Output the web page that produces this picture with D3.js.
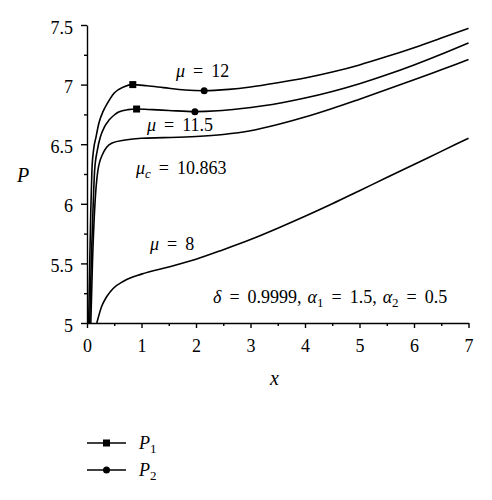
<!DOCTYPE html>
<html>
<head>
<meta charset="utf-8">
<script src="https://cdn.jsdelivr.net/npm/d3@7"></script>
<style>
  body { margin: 0; background: #fff; }
  svg text { font-family: "Liberation Serif", "Times New Roman", Times, serif !important; fill: #000; }
</style>
</head>
<body>
<div id="chart"></div>
<script>
// values
var xTicks = [0, 1, 2, 3, 4, 5, 6, 7];
var xTickLabels = ["0", "1", "2", "3", "4", "5", "6", "7"];
var yTicks = [5, 5.5, 6, 6.5, 7, 7.5];
var yTickLabels = ["5", "5.5", "6", "6.5", "7", "7.5"];

var mu12 = [[0.03,5.0],[0.05,5.5],[0.07,5.95],[0.09,6.28],[0.12,6.45],[0.165,6.56],[0.22,6.68],
  [0.30,6.78],[0.37,6.84],[0.50,6.93],[0.67,6.98],[0.84,7.0],[1.1,6.99],[1.4,6.975],[1.8,6.955],
  [2.15,6.949],[2.6,6.96],[3.0,6.98],[3.5,7.015],[4.0,7.055],[4.5,7.105],[5.0,7.165],
  [5.5,7.235],[6.0,7.31],[6.5,7.39],[7.0,7.472]];
var mu115 = [[0.05,5.0],[0.08,5.55],[0.11,5.95],[0.14,6.28],[0.19,6.45],[0.245,6.56],[0.32,6.645],
  [0.40,6.70],[0.50,6.745],[0.58,6.77],[0.75,6.79],[0.91,6.795],[1.2,6.79],[1.5,6.783],
  [1.98,6.773],[2.4,6.78],[2.8,6.797],[3.2,6.82],[3.6,6.85],[4.0,6.887],[4.5,6.942],[5.0,7.007],
  [5.5,7.082],[6.0,7.165],[6.5,7.255],[7.0,7.35]];
var muC = [[0.07,5.0],[0.10,5.5],[0.14,5.95],[0.20,6.28],[0.29,6.42],[0.36,6.475],[0.46,6.51],
  [0.70,6.535],[1.0,6.55],[1.4,6.555],[2.0,6.565],[2.5,6.582],[3.0,6.613],[3.5,6.665],[4.0,6.728],
  [4.5,6.80],[5.0,6.878],[5.5,6.958],[6.0,7.04],[6.5,7.125],[7.0,7.21]];
var mu8 = [[0.18,5.0],[0.27,5.14],[0.36,5.22],[0.48,5.29],[0.67,5.35],[1.0,5.41],[1.5,5.47],
  [2.0,5.535],[2.5,5.615],[3.0,5.70],[3.5,5.795],[4.0,5.895],[4.5,6.0],[5.0,6.11],[5.5,6.22],
  [6.0,6.33],[6.5,6.44],[7.0,6.55]];

var p1 = [[0.84, 7.0], [0.91, 6.795]];
var p2 = [[2.15, 6.949], [1.98, 6.773]];

var W = 492, H = 500;
var svg = d3.select("#chart").append("svg")
    .attr("width", W).attr("height", H);

var x = d3.scaleLinear().domain([0, 7]).range([87, 468.5]);
var y = d3.scaleLinear().domain([5, 7.5]).range([323, 25]);

// ---- axes
var xAxis = d3.axisBottom(x).tickValues(xTicks).tickSize(5).tickSizeOuter(0).tickPadding(11)
    .tickFormat(function(d, i) { return xTickLabels[i]; });
var gx = svg.append("g").attr("transform", "translate(0," + y(5) + ")").call(xAxis);
gx.selectAll("text").style("font-size", "18px");
svg.append("g").attr("transform", "translate(0," + y(5) + ")")
    .call(d3.axisBottom(x).tickValues(d3.range(0.5, 7, 1)).tickSize(3).tickFormat(""))
    .select(".domain").remove();

var yAxis = d3.axisLeft(y).tickValues(yTicks).tickSize(6).tickSizeOuter(0).tickPadding(8)
    .tickFormat(function(d, i) { return yTickLabels[i]; });
var gy = svg.append("g").attr("transform", "translate(" + x(0) + ",0)").call(yAxis);
gy.selectAll("text").style("font-size", "18px").attr("dy", "0.45em");
svg.append("g").attr("transform", "translate(" + x(0) + ",0)")
    .call(d3.axisLeft(y).tickValues(d3.range(5.25, 7.5, 0.5)).tickSize(3).tickFormat(""))
    .select(".domain").remove();

svg.selectAll(".domain, .tick line").attr("stroke", "#000").attr("stroke-width", 1.4);

// axis titles
svg.append("text").attr("x", 17).attr("y", 182).style("font-size", "20px")
    .style("font-style", "italic").text("P");
svg.append("text").attr("x", 270).attr("y", 385).style("font-size", "20px")
    .style("font-style", "italic").text("x");

// ---- curves
var line = d3.line().x(function(d) { return x(d[0]); }).y(function(d) { return y(d[1]); })
    .curve(d3.curveMonotoneX);

[mu12, mu115, muC, mu8].forEach(function(s) {
    svg.append("path").datum(s).attr("d", line)
        .attr("fill", "none").attr("stroke", "#000").attr("stroke-width", 1.6);
});

svg.selectAll("rect.p1").data(p1).enter().append("rect").attr("class", "p1")
    .attr("x", function(d) { return x(d[0]) - 3.5; })
    .attr("y", function(d) { return y(d[1]) - 3.5; })
    .attr("width", 7).attr("height", 7).attr("fill", "#000");
svg.selectAll("circle.p2").data(p2).enter().append("circle").attr("class", "p2")
    .attr("cx", function(d) { return x(d[0]); })
    .attr("cy", function(d) { return y(d[1]); })
    .attr("r", 3.5).attr("fill", "#000");

// ---- annotations (math-style spacing around "=")
function label(px, py, parts) {
    var t = svg.append("text").attr("x", px).attr("y", py).style("font-size", "18px");
    parts.forEach(function(p) {
        var s = t.append("tspan").text(p.t);
        var dy = 0;
        if (p.i) s.style("font-style", "italic");
        if (p.sub) { dy = 4; s.style("font-size", "13px"); }
        if (p.up) dy = -4;
        if (dy) s.attr("dy", dy);
        if (p.dx) s.attr("dx", p.dx);
    });
    return t;
}
var EQ = 8;
label(176, 77, [{t: "μ", i: 1}, {t: "=", dx: EQ}, {t: "12", dx: EQ}]);
label(147, 131, [{t: "μ", i: 1}, {t: "=", dx: EQ}, {t: "11.5", dx: EQ}]);
label(136, 174, [{t: "μ", i: 1}, {t: "c", i: 1, sub: 1}, {t: "=", up: 1, dx: EQ},
    {t: "10.863", dx: EQ}]);
label(150, 250, [{t: "μ", i: 1}, {t: "=", dx: EQ}, {t: "8", dx: EQ}]);
label(213, 303, [{t: "δ", i: 1}, {t: "=", dx: EQ}, {t: "0.9999,", dx: EQ},
    {t: "α", i: 1, dx: 6}, {t: "1", sub: 1}, {t: "=", up: 1, dx: EQ}, {t: "1.5,", dx: EQ},
    {t: "α", i: 1, dx: 6}, {t: "2", sub: 1}, {t: "=", up: 1, dx: EQ}, {t: "0.5", dx: EQ}]);

// ---- legend
var legend = [{name: "1", shape: "square", yy: 443}, {name: "2", shape: "circle", yy: 470}];
legend.forEach(function(l) {
    svg.append("line").attr("x1", 87).attr("x2", 126).attr("y1", l.yy).attr("y2", l.yy)
        .attr("stroke", "#000").attr("stroke-width", 1.4);
    if (l.shape === "square") {
        svg.append("rect").attr("x", 103).attr("y", l.yy - 3.5).attr("width", 7).attr("height", 7);
    } else {
        svg.append("circle").attr("cx", 106.5).attr("cy", l.yy).attr("r", 3.5);
    }
    label(139, l.yy + 6, [{t: "P", i: 1}, {t: l.name, sub: 1}]);
});
</script>
</body>
</html>
